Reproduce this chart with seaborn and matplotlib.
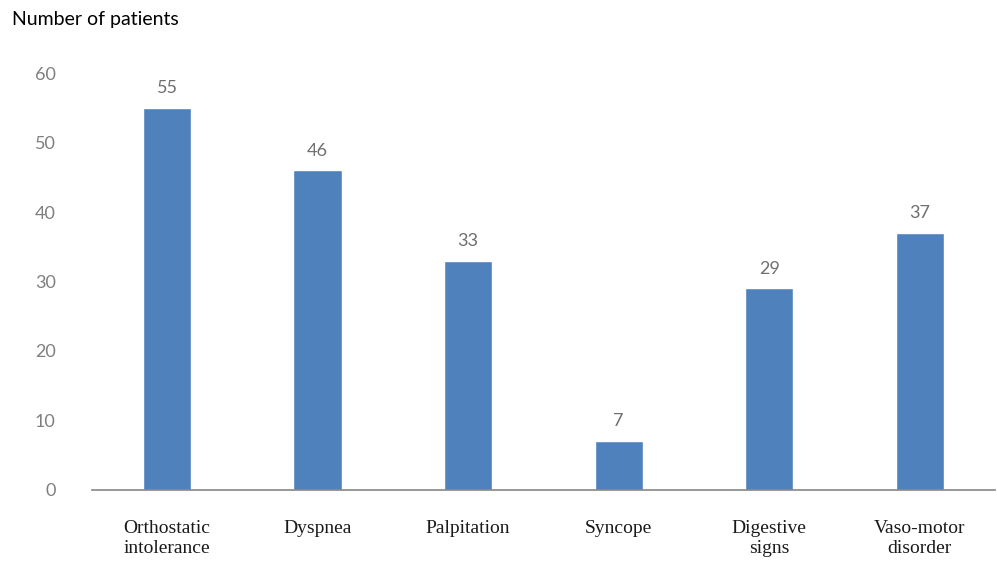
import matplotlib
matplotlib.use("Agg")
import matplotlib.pyplot as plt
import seaborn as sns
import pandas as pd

# data
symptoms = ["Orthostatic\nintolerance", "Dyspnea", "Palpitation", "Syncope",
            "Digestive\nsigns", "Vaso-motor\ndisorder"]
patients = [55, 46, 33, 7, 29, 37]
y_ticks = [0, 10, 20, 30, 40, 50, 60]

sns.set_theme(style="white")
plt.rcParams["font.family"] = ["Lato", "DejaVu Sans"]

df = pd.DataFrame({"Symptom": symptoms, "Patients": patients})

fig = plt.figure(figsize=(9.97, 5.67), dpi=100)
ax = fig.add_axes([0.092, 0.136, 0.906, 0.735])

sns.barplot(data=df, x="Symptom", y="Patients", color="#4F81BD",
            width=0.32, saturation=1, ax=ax)

for i, v in enumerate(patients):
    ax.text(i, v + 1.7, str(v), ha="center", va="bottom",
            fontsize=13, color="#6f6f6f")

ax.set_ylim(0, 60)
ax.set_xlim(-0.5, len(symptoms) - 0.5)
ax.set_yticks(y_ticks)
ax.set_yticklabels([str(t) for t in y_ticks], fontsize=13, color="#7f7f7f")
ax.tick_params(axis="y", length=0, pad=26)
ax.tick_params(axis="x", length=0, pad=22)
for lbl in ax.get_xticklabels():
    lbl.set_family(["Liberation Serif", "DejaVu Serif"])
    lbl.set_fontsize(14)
    lbl.set_color("#1a1a1a")

ax.set_xlabel("")
ax.set_ylabel("")
for side in ["top", "right", "left"]:
    ax.spines[side].set_visible(False)
ax.spines["bottom"].set_color("#868686")
ax.spines["bottom"].set_linewidth(1.2)

fig.text(0.012, 0.965, "Number of patients", ha="left", va="center",
         fontsize=14, color="black")

fig.savefig("out.png", dpi=100)
